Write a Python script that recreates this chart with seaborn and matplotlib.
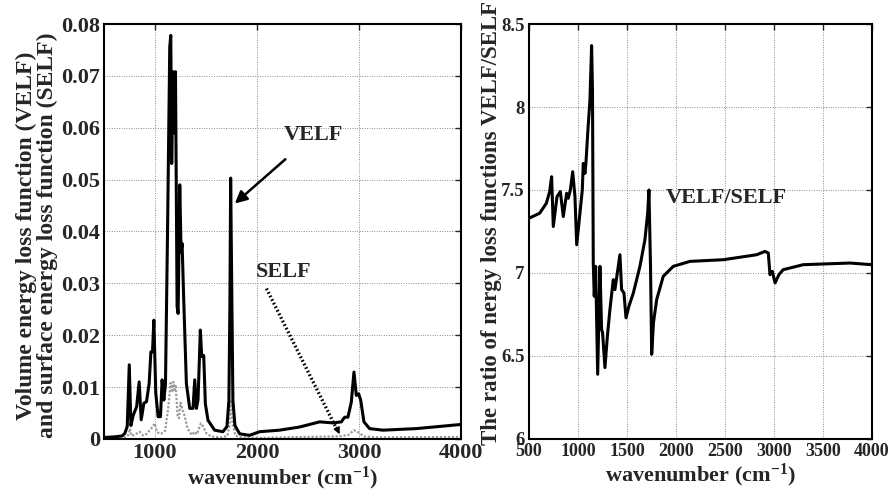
import matplotlib
matplotlib.use("Agg")
import matplotlib.pyplot as plt
import seaborn as sns
import pandas as pd
from matplotlib.ticker import FuncFormatter

# Volume energy loss function (VELF)
velf_wn = [500, 600, 680, 705, 728, 748, 764, 787, 820, 845, 865, 891, 917, 943, 960, 976,
           989, 1008, 1031, 1054, 1070, 1087, 1103, 1123, 1145, 1155, 1164, 1178, 1191,
           1201, 1217, 1227, 1243, 1256, 1266, 1282, 1308, 1341, 1373, 1390, 1406, 1422,
           1445, 1458, 1478, 1494, 1520, 1585, 1666, 1706, 1725, 1735, 1742, 1754, 1764,
           1784, 1830, 1927, 2025, 2221, 2416, 2615, 2745, 2827, 2860, 2892, 2925, 2951,
           2974, 2997, 3017, 3049, 3104, 3235, 3561, 4000]
velf_val = [0.0003, 0.0004, 0.0006, 0.0011, 0.0024, 0.0143, 0.0026, 0.0046, 0.0062, 0.0110,
            0.0037, 0.0069, 0.0072, 0.0107, 0.0168, 0.0168, 0.0229, 0.0088, 0.0043, 0.0043,
            0.0114, 0.0075, 0.0106, 0.0397, 0.0756, 0.0778, 0.0531, 0.0708, 0.0590, 0.0708,
            0.0255, 0.0242, 0.0490, 0.0360, 0.0377, 0.0268, 0.0107, 0.0059, 0.0059, 0.0114,
            0.0059, 0.0075, 0.0210, 0.0159, 0.0161, 0.0068, 0.0036, 0.0017, 0.0014, 0.0024,
            0.0075, 0.0268, 0.0503, 0.0268, 0.0075, 0.0026, 0.0010, 0.0007, 0.0014, 0.0017,
            0.0023, 0.0033, 0.0031, 0.0033, 0.0042, 0.0042, 0.0071, 0.0129, 0.0084, 0.0087,
            0.0075, 0.0033, 0.0020, 0.0017, 0.0020, 0.0028]

# Surface energy loss function (SELF)
self_wn = [500, 700, 740, 755, 770, 800, 850, 880, 920, 970, 997, 1020, 1060, 1085, 1100,
           1130, 1153, 1170, 1180, 1192, 1202, 1222, 1235, 1250, 1265, 1290, 1320, 1360,
           1390, 1410, 1450, 1470, 1500, 1550, 1650, 1710, 1730, 1744, 1760, 1790, 1850,
           2000, 2500, 2800, 2900, 2950, 3000, 3050, 3200, 4000]
self_val = [0.0001, 0.0002, 0.0008, 0.0020, 0.0006, 0.0008, 0.0014, 0.0007, 0.0010,
            0.0022, 0.0030, 0.0013, 0.0010, 0.0015, 0.0016, 0.0060, 0.0108, 0.0090,
            0.0110, 0.0095, 0.0105, 0.0045, 0.0040, 0.0070, 0.0060, 0.0045, 0.0020,
            0.0008, 0.0014, 0.0009, 0.0030, 0.0025, 0.0012, 0.0005, 0.0003, 0.0006,
            0.0025, 0.0075, 0.0030, 0.0006, 0.0003, 0.0002, 0.0004, 0.0005, 0.0008,
            0.0017, 0.0012, 0.0005, 0.0003, 0.0004]

# Ratio VELF/SELF
ratio_wn = [500, 609, 677, 711, 731, 748, 786, 820, 850, 884, 901, 922, 946, 969, 987,
            1020, 1044, 1054, 1071, 1082, 1100, 1122, 1139, 1148, 1156, 1166, 1180, 1201,
            1224, 1241, 1251, 1275, 1300, 1326, 1360, 1377, 1394, 1428, 1445, 1469, 1490,
            1520, 1565, 1632, 1683, 1711, 1724, 1740, 1752, 1770, 1803, 1870, 1972, 2143,
            2483, 2823, 2908, 2942, 2959, 2983, 3011, 3050, 3094, 3298, 3774, 4000]
ratio_val = [7.33, 7.36, 7.42, 7.49, 7.58, 7.28, 7.46, 7.49, 7.34, 7.48, 7.45, 7.50, 7.61,
             7.46, 7.17, 7.36, 7.50, 7.66, 7.60, 7.67, 7.85, 8.04, 8.37, 8.10, 7.06, 6.86,
             7.04, 6.39, 7.04, 6.66, 6.64, 6.43, 6.62, 6.78, 6.96, 6.90, 6.97, 7.11, 6.90,
             6.88, 6.73, 6.80, 6.88, 7.04, 7.20, 7.36, 7.50, 7.04, 6.51, 6.70, 6.84, 6.98,
             7.04, 7.07, 7.08, 7.11, 7.13, 7.12, 6.99, 7.01, 6.94, 6.99, 7.02, 7.05, 7.06,
             7.05]

left_yticks = [0, 0.01, 0.02, 0.03, 0.04, 0.05, 0.06, 0.07, 0.08]
left_xticks = [1000, 2000, 3000, 4000]
right_yticks = [6, 6.5, 7, 7.5, 8, 8.5]
right_xticks = [500, 1000, 1500, 2000, 2500, 3000, 3500, 4000]

sns.set_style("white")
plt.rcParams["font.family"] = ["Liberation Serif", "DejaVu Serif"]
plt.rcParams["font.weight"] = "bold"
plt.rcParams["mathtext.fontset"] = "custom"
plt.rcParams["mathtext.rm"] = "Liberation Serif:bold"
plt.rcParams["mathtext.it"] = "Liberation Serif:bold"
plt.rcParams["mathtext.bf"] = "Liberation Serif:bold"

fig = plt.figure(figsize=(8.94, 4.98), dpi=100)
ax1 = fig.add_axes([0.1163, 0.1185, 0.3993, 0.8333])
ax2 = fig.add_axes([0.5917, 0.1185, 0.3837, 0.8333])

df_v = pd.DataFrame({"wn": velf_wn, "val": velf_val})
df_s = pd.DataFrame({"wn": self_wn, "val": self_val})
df_r = pd.DataFrame({"wn": ratio_wn, "val": ratio_val})

sns.lineplot(data=df_s, x="wn", y="val", ax=ax1, color="#9a9a9a", lw=1.6,
             linestyle=(0, (1, 0.8)), sort=False)
sns.lineplot(data=df_v, x="wn", y="val", ax=ax1, color="black", lw=2.2, sort=False)
sns.lineplot(data=df_r, x="wn", y="val", ax=ax2, color="black", lw=2.2, sort=False)

fmt = FuncFormatter(lambda v, p: "%g" % v)


def style_axes(ax, xticks, yticks, xfs, yfs):
    ax.set_xlim(500, 4000)
    ax.set_xticks(xticks)
    ax.set_yticks(yticks)
    ax.xaxis.set_major_formatter(fmt)
    ax.yaxis.set_major_formatter(fmt)
    ax.grid(True, color="#8c8c8c", linestyle=(0, (1, 1.5)), linewidth=0.7)
    ax.tick_params(direction="in", length=4, width=1, top=True, right=True, pad=3)
    ax.tick_params(axis="x", labelsize=xfs)
    ax.tick_params(axis="y", labelsize=yfs)
    for lab in ax.get_xticklabels() + ax.get_yticklabels():
        lab.set_fontweight("bold")
    for sp in ax.spines.values():
        sp.set_linewidth(1.5)
        sp.set_color("black")
    ax.set_xlabel("wavenumber (cm$^{-1}$)", fontsize=16, fontweight="bold", labelpad=1)


ax1.set_ylim(0, 0.08)
style_axes(ax1, left_xticks, left_yticks, 16, 16)
ax1.set_ylabel("Volume energy loss function (VELF)\nand surface energy loss function (SELF)",
               fontsize=17, fontweight="bold", linespacing=0.95)
ax1.yaxis.set_label_coords(-0.13, 0.49)

ax2.set_ylim(6, 8.5)
style_axes(ax2, right_xticks, right_yticks, 13, 13.5)
ax2.set_ylabel("The ratio of nergy loss functions VELF/SELF", fontsize=16.5,
               fontweight="bold")
ax2.yaxis.set_label_coords(-0.08, 0.52)

ax1.annotate("VELF", xy=(1783, 0.0454), xytext=(2550, 0.0586), fontsize=16,
             fontweight="bold", ha="center", va="center",
             arrowprops=dict(arrowstyle="-|>", color="black", lw=1.8,
                             shrinkA=12, shrinkB=0, mutation_scale=18))
ax1.text(2263, 0.0322, "SELF", fontsize=16, fontweight="bold", ha="center", va="center")
# dotted pointer from the SELF label down to the curve
ax1.plot([2093, 2790], [0.0290, 0.0016], color="black", lw=2.4,
         linestyle=(0, (0.5, 0.7)), solid_capstyle="butt")
ax1.annotate("", xy=(2811, 0.0009), xytext=(2780, 0.0022),
             arrowprops=dict(arrowstyle="-|>", color="black", lw=1.2,
                             shrinkA=0, shrinkB=0, mutation_scale=9))
ax2.text(2513, 7.45, "VELF/SELF", fontsize=16, fontweight="bold", ha="center", va="center")

fig.savefig("out.png", dpi=100)
